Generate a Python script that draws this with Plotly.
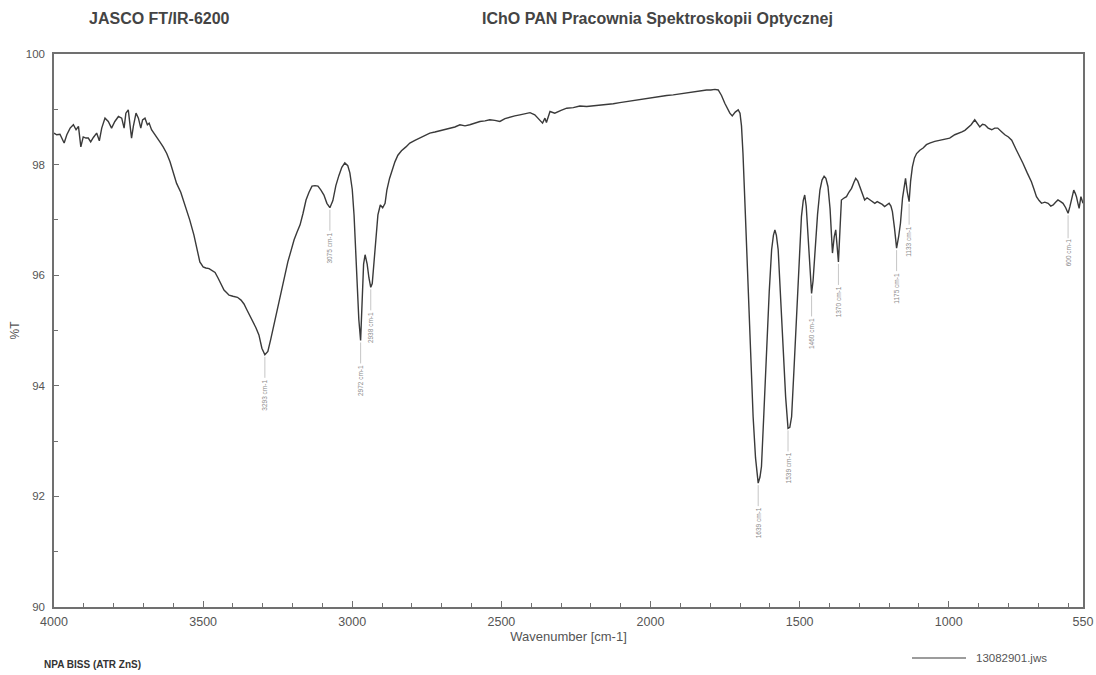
import plotly.graph_objects as go

# ---- data ----
wavenumber = [
    4000, 3991, 3980, 3966, 3957, 3946, 3935, 3926, 3918, 3910, 3902, 3893, 3885, 3877, 3868, 3857,
    3848, 3840, 3829, 3818, 3807, 3796, 3784, 3773, 3765, 3759, 3751, 3745, 3740, 3734, 3725, 3717,
    3709, 3703, 3695, 3687, 3681, 3673, 3661, 3654, 3645, 3634, 3622, 3611, 3600, 3589, 3575, 3561,
    3545, 3531, 3520, 3511, 3500, 3491, 3480, 3470, 3460, 3450, 3440, 3430, 3420, 3413, 3400, 3393,
    3385, 3373, 3363, 3353, 3343, 3333, 3323, 3313, 3303, 3293, 3283, 3273, 3263, 3252, 3242, 3230,
    3216, 3205, 3195, 3185, 3175, 3165, 3155, 3145, 3135, 3125, 3115, 3105, 3095, 3085, 3075, 3065,
    3055, 3045, 3035, 3025, 3015, 3008, 3000, 2994, 2988, 2984, 2978, 2972, 2967, 2962, 2957, 2950,
    2944, 2938, 2933, 2928, 2920, 2914, 2906, 2898, 2890, 2884, 2875, 2867, 2857, 2847, 2835, 2820,
    2807, 2790, 2773, 2757, 2740, 2723, 2706, 2690, 2673, 2656, 2639, 2622, 2606, 2589, 2572, 2555,
    2539, 2522, 2505, 2488, 2471, 2455, 2438, 2421, 2404, 2388, 2371, 2362, 2354, 2349, 2337, 2321,
    2300, 2281, 2259, 2237, 2214, 2192, 2170, 2147, 2125, 2103, 2080, 2058, 2035, 2013, 1991, 1969,
    1946, 1924, 1901, 1879, 1862, 1846, 1829, 1812, 1798, 1784, 1773, 1762, 1751, 1742, 1734, 1726,
    1716, 1706, 1700, 1695, 1690, 1682, 1673, 1665, 1656, 1648, 1639, 1633, 1628, 1620, 1611, 1602,
    1594, 1588, 1583, 1578, 1572, 1563, 1555, 1547, 1539, 1533, 1527, 1519, 1510, 1502, 1494, 1488,
    1483, 1478, 1472, 1466, 1460, 1455, 1449, 1440, 1432, 1425, 1418, 1412, 1405, 1398, 1390, 1384,
    1379, 1374, 1370, 1365, 1360, 1350, 1343, 1335, 1326, 1318, 1312, 1305, 1298, 1290, 1282, 1274,
    1265, 1257, 1248, 1240, 1231, 1223, 1215, 1207, 1200, 1194, 1189, 1182, 1175, 1168, 1162, 1155,
    1148, 1145, 1139, 1133, 1128, 1122, 1115, 1108, 1097, 1086, 1075, 1064, 1047, 1030, 1014, 997,
    980, 968, 956, 946, 936, 925, 913, 905, 896, 887, 879, 868, 856, 846, 836, 824,
    812, 800, 789, 773, 762, 751, 737, 723, 714, 706, 697, 689, 678, 667, 658, 650,
    642, 634, 625, 617, 608, 600, 594, 587, 581, 576, 572, 567, 563, 557, 553, 550,
]
transmittance = [
    98.57, 98.54, 98.55, 98.39, 98.54, 98.66, 98.72, 98.63, 98.69, 98.32, 98.50, 98.48, 98.48, 98.41, 98.49, 98.57,
    98.43, 98.66, 98.84, 98.78, 98.66, 98.78, 98.87, 98.84, 98.66, 98.93, 98.99, 98.66, 98.48, 98.69, 98.93, 98.84,
    98.66, 98.81, 98.84, 98.72, 98.75, 98.63, 98.54, 98.50, 98.41, 98.32, 98.20, 98.05, 97.84, 97.66, 97.50, 97.27,
    97.00, 96.73, 96.45, 96.24, 96.15, 96.13, 96.12, 96.09, 96.05, 95.95, 95.85, 95.73, 95.68, 95.64, 95.62, 95.61,
    95.60, 95.55, 95.48, 95.37, 95.27, 95.15, 95.05, 94.92, 94.68, 94.56, 94.62, 94.85, 95.10, 95.38, 95.64, 95.95,
    96.24, 96.45, 96.64, 96.78, 96.91, 97.12, 97.36, 97.50, 97.61, 97.62, 97.61, 97.54, 97.45, 97.30, 97.22, 97.35,
    97.62, 97.80, 97.95, 98.03, 97.98, 97.85, 97.55, 97.09, 96.40, 95.91, 95.20, 94.82, 95.50, 96.20, 96.37, 96.20,
    95.95, 95.78, 95.85, 96.18, 96.80, 97.09, 97.27, 97.22, 97.30, 97.54, 97.75, 97.90, 98.05, 98.17, 98.25, 98.32,
    98.39, 98.44, 98.48, 98.52, 98.57, 98.59, 98.61, 98.63, 98.66, 98.68, 98.72, 98.70, 98.72, 98.75, 98.78, 98.79,
    98.81, 98.80, 98.78, 98.83, 98.86, 98.88, 98.90, 98.92, 98.94, 98.90, 98.81, 98.75, 98.84, 98.76, 98.96, 98.93,
    98.98, 99.02, 99.03, 99.06, 99.05, 99.06, 99.08, 99.08, 99.10, 99.12, 99.14, 99.16, 99.17, 99.20, 99.21, 99.23,
    99.25, 99.26, 99.28, 99.30, 99.31, 99.32, 99.33, 99.35, 99.35, 99.36, 99.35, 99.25, 99.11, 99.00, 98.93, 98.88,
    98.95, 98.99, 98.93, 98.70, 98.20, 97.10, 95.86, 94.70, 93.44, 92.70, 92.24, 92.35, 92.54, 93.50, 94.65, 95.70,
    96.46, 96.72, 96.82, 96.72, 96.46, 95.60, 94.65, 93.80, 93.23, 93.25, 93.44, 94.30, 95.25, 96.30, 97.06, 97.35,
    97.45, 97.25, 96.76, 96.10, 95.67, 95.90, 96.46, 97.10, 97.54, 97.72, 97.79, 97.75, 97.60, 97.20, 96.40, 96.70,
    96.82, 96.50, 96.24, 96.80, 97.36, 97.40, 97.42, 97.50, 97.57, 97.68, 97.75, 97.70, 97.60, 97.45, 97.36, 97.40,
    97.37, 97.33, 97.30, 97.33, 97.31, 97.28, 97.24, 97.28, 97.30, 97.25, 97.15, 96.85, 96.49, 96.70, 96.94, 97.40,
    97.72, 97.75, 97.50, 97.33, 97.70, 97.96, 98.12, 98.20, 98.26, 98.30, 98.36, 98.39, 98.42, 98.44, 98.46, 98.48,
    98.54, 98.56, 98.59, 98.62, 98.66, 98.72, 98.81, 98.74, 98.68, 98.73, 98.72, 98.66, 98.63, 98.66, 98.66, 98.60,
    98.54, 98.50, 98.44, 98.26, 98.15, 98.02, 97.85, 97.69, 97.55, 97.42, 97.35, 97.30, 97.32, 97.30, 97.25, 97.27,
    97.32, 97.36, 97.33, 97.30, 97.22, 97.12, 97.24, 97.40, 97.54, 97.48, 97.42, 97.30, 97.21, 97.42, 97.35, 97.30,
]

peak_wn = [3293, 3075, 2972, 2938, 1639, 1539, 1460, 1370, 1175, 1133, 600]
peak_t = [94.56, 97.22, 94.82, 95.78, 92.24, 93.23, 95.67, 96.24, 96.49, 97.33, 97.12]
peak_text = [f"{w} cm-1" for w in peak_wn]

x_tickvals = [4000, 3500, 3000, 2500, 2000, 1500, 1000, 550]
x_ticktext = ["4000", "3500", "3000", "2500", "2000", "1500", "1000", "550"]
y_tickvals = [90, 92, 94, 96, 98, 100]
legend_name = "13082901.jws"

FONT = "Arial, Liberation Sans, sans-serif"
LINE = "#3a3a3a"
AXIS = "#707070"
TXT = "#555555"

W, H = 1096, 675
PL, PT, PW, PH = 54, 54, 1029, 553  # plot area in page pixels


def px_x(x):
    return (x - PL) / PW


def px_y(y):
    return 1 - (y - PT) / PH


fig = go.Figure()
fig.add_trace(go.Scatter(
    x=wavenumber, y=transmittance, mode="lines",
    line=dict(color=LINE, width=1.4), name=legend_name, showlegend=False,
))

for w, t, s in zip(peak_wn, peak_t, peak_text):
    fig.add_annotation(
        x=w, y=t, xref="x", yref="y", text=s, textangle=-90,
        showarrow=True, arrowhead=0, arrowwidth=0.6, arrowcolor="#a0a0a0",
        ax=0, ay=40, standoff=2,
        font=dict(family=FONT, size=6.5, color="#8a8a8a"),
    )

fig.update_layout(
    width=W, height=H,
    margin=dict(l=PL, r=W - PL - PW, t=PT, b=H - PT - PH),
    paper_bgcolor="white", plot_bgcolor="white",
    font=dict(family=FONT, color=TXT, size=10),
    showlegend=False,
)

fig.update_xaxes(
    range=[4000, 550], tickmode="array", tickvals=x_tickvals, ticktext=x_ticktext,
    ticks="inside", ticklen=6, tickcolor=AXIS, tickwidth=1,
    minor=dict(tickmode="linear", tick0=0, dtick=100, ticks="inside", ticklen=4, tickcolor=AXIS),
    showline=True, linecolor=AXIS, linewidth=1.5, mirror=True,
    showgrid=False, zeroline=False, automargin=False,
    ticklabelstandoff=2,
    tickfont=dict(family=FONT, size=12.5, color=TXT),
    title=dict(text="Wavenumber [cm-1]", font=dict(family=FONT, size=13, color=TXT), standoff=4),
)
fig.update_yaxes(
    range=[90, 100], tickmode="array", tickvals=y_tickvals,
    ticks="inside", ticklen=5, tickcolor=AXIS, tickwidth=1,
    minor=dict(tickmode="linear", tick0=0, dtick=1, ticks="inside", ticklen=4, tickcolor=AXIS),
    showline=True, linecolor=AXIS, linewidth=1.5, mirror=True,
    showgrid=False, zeroline=False, automargin=False,
    ticklabelstandoff=5,
    tickfont=dict(family=FONT, size=11.5, color=TXT),
    title=dict(text="%T", font=dict(family=FONT, size=12, color=TXT), standoff=4),
)

fig.add_annotation(text="<b>JASCO FT/IR-6200</b>", xref="paper", yref="paper",
                   x=px_x(159), y=px_y(18), showarrow=False,
                   xanchor="center", yanchor="middle",
                   font=dict(family=FONT, size=16, color="#444444"))
fig.add_annotation(text="<b>IChO PAN Pracownia Spektroskopii Optycznej</b>", xref="paper", yref="paper",
                   x=px_x(657), y=px_y(18), showarrow=False,
                   xanchor="center", yanchor="middle",
                   font=dict(family=FONT, size=16, color="#444444"))
fig.add_annotation(text="<b>NPA BISS (ATR ZnS)</b>", xref="paper", yref="paper",
                   x=px_x(42), y=px_y(664), showarrow=False,
                   xanchor="left", yanchor="middle",
                   font=dict(family=FONT, size=10, color="#333333"))

# legend sample (drawn like the instrument printout)
fig.add_shape(type="line", xref="paper", yref="paper",
              x0=px_x(912), x1=px_x(966), y0=px_y(658), y1=px_y(658),
              line=dict(color=LINE, width=1.2))
fig.add_annotation(text=legend_name, xref="paper", yref="paper",
                   x=px_x(974), y=px_y(658), showarrow=False,
                   xanchor="left", yanchor="middle",
                   font=dict(family=FONT, size=11.5, color=TXT))

fig.write_html(
    "out.html",
    config={"displayModeBar": False},
    post_script="document.body.style.margin='0px';document.body.style.overflow='hidden';",
)
